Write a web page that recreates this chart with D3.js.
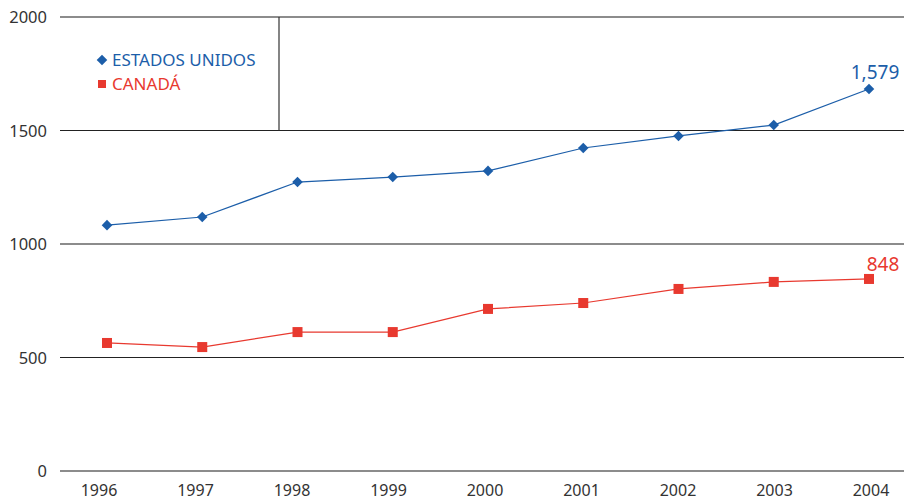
<!DOCTYPE html>
<html lang="es">
<head>
    <meta charset="UTF-8">
    <title>Estados Unidos y Canadá</title>
    <script src="https://d3js.org/d3.v7.min.js"></script>
    <style>
        body { margin: 0; background: #fff; font-family: "Noto Sans", Arial, sans-serif; }
        svg { display: block; }
    </style>
</head>
<body>
<div id="chart"></div>
<script>
    // data
    const years = ["1996", "1997", "1998", "1999", "2000", "2001", "2002", "2003", "2004"];
    const usValues = [1083, 1119, 1273, 1295, 1322, 1423, 1476, 1524, 1683];
    const caValues = [564, 546, 612, 612, 714, 740, 802, 833, 846];
    const yTicks = [0, 500, 1000, 1500, 2000];
    const endLabels = ["1,579", "848"];

    const width = 904, height = 501;
    const blue = "#1c5ea9", red = "#e8392f";

    const svg = d3.select("#chart").append("svg")
        .attr("width", width)
        .attr("height", height);

    const x = d3.scalePoint().domain(years).range([107, 869]);
    // year labels sit on a slightly wider spacing than the points
    const xLab = d3.scalePoint().domain(years).range([99, 871]);
    const y = d3.scaleLinear().domain([0, 2000]).range([471, 17]);

    // gridlines (alternating gray / dark)
    svg.selectAll(".grid")
        .data(yTicks)
        .enter().append("line")
        .attr("x1", 60).attr("x2", width)
        .attr("y1", d => y(d)).attr("y2", d => y(d))
        .attr("stroke", d => d % 1000 === 0 ? "#8c8c8c" : "#222")
        .attr("stroke-width", d => d % 1000 === 0 ? 2 : 1.2);

    // y labels
    svg.selectAll(".ylab")
        .data(yTicks)
        .enter().append("text")
        .attr("x", 47)
        .attr("y", d => y(d) + 6)
        .attr("text-anchor", "end")
        .attr("font-size", 16.5)
        .attr("fill", "#333")
        .text(d => d);

    // x labels
    svg.selectAll(".xlab")
        .data(years)
        .enter().append("text")
        .attr("x", d => xLab(d))
        .attr("y", 496)
        .attr("text-anchor", "middle")
        .attr("font-size", 16)
        .attr("fill", "#333")
        .text(d => d);

    // stray vertical line around the legend
    svg.append("line")
        .attr("x1", 279).attr("x2", 279)
        .attr("y1", y(2000)).attr("y2", y(1500))
        .attr("stroke", "#333").attr("stroke-width", 1.2);

    const line = d3.line()
        .x((d, i) => x(years[i]))
        .y(d => y(d));

    svg.append("path").datum(usValues)
        .attr("d", line).attr("fill", "none")
        .attr("stroke", blue).attr("stroke-width", 1.2);

    svg.append("path").datum(caValues)
        .attr("d", line).attr("fill", "none")
        .attr("stroke", red).attr("stroke-width", 1.2);

    const diamond = d3.symbol().type(d3.symbolSquare).size(56);
    svg.selectAll(".us")
        .data(usValues)
        .enter().append("path")
        .attr("d", diamond)
        .attr("transform", (d, i) => `translate(${x(years[i])},${y(d)}) rotate(45)`)
        .attr("fill", blue);

    svg.selectAll(".ca")
        .data(caValues)
        .enter().append("rect")
        .attr("x", (d, i) => x(years[i]) - 5)
        .attr("y", d => y(d) - 5)
        .attr("width", 10).attr("height", 10)
        .attr("fill", red);

    // end labels
    svg.append("text")
        .attr("x", x("2004") + 6)
        .attr("y", y(usValues[8]) - 10)
        .attr("text-anchor", "middle")
        .attr("font-size", 19)
        .attr("fill", blue)
        .text(endLabels[0]);

    svg.append("text")
        .attr("x", x("2004") + 14)
        .attr("y", y(caValues[8]) - 8)
        .attr("text-anchor", "middle")
        .attr("font-size", 19)
        .attr("fill", red)
        .text(endLabels[1]);

    // legend
    const legend = svg.append("g").attr("transform", "translate(102,60)");
    legend.append("path")
        .attr("d", diamond)
        .attr("transform", "rotate(45)")
        .attr("fill", blue);
    legend.append("text")
        .attr("x", 10).attr("y", 6)
        .attr("font-size", 17)
        .attr("fill", blue)
        .text("ESTADOS UNIDOS");
    legend.append("rect")
        .attr("x", -4).attr("y", 20)
        .attr("width", 8).attr("height", 8)
        .attr("fill", red);
    legend.append("text")
        .attr("x", 10).attr("y", 30)
        .attr("font-size", 17)
        .attr("fill", red)
        .text("CANADÁ");
</script>
</body>
</html>
